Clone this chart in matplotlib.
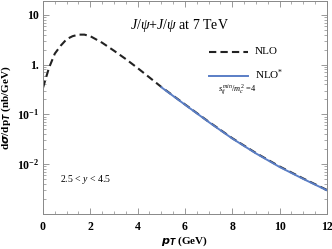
import numpy as np
import matplotlib
matplotlib.use('Agg')
import matplotlib.pyplot as plt
from matplotlib.ticker import FixedLocator, MultipleLocator, LogLocator, NullFormatter

# NLO (dashed) curve
pt_nlo = [0, 0.25, 0.5, 0.75, 1.0, 1.25, 1.5, 1.75, 2.0, 2.5, 3.0, 3.5, 4.0, 4.5, 5.0, 6.0, 7.0, 8.0, 9.0, 10.0, 11.0, 12.0]
xs_nlo = [0.34, 0.85, 1.66, 2.4, 3.24, 3.72, 4.0, 4.0, 3.72, 2.75, 1.9, 1.29, 0.85, 0.55, 0.355,
          0.158, 0.071, 0.033, 0.0166, 0.0089, 0.0051, 0.0030]

# NLO* (blue) curve
pt_star = [5.0, 6.0, 7.0, 8.0, 9.0, 10.0, 11.0, 12.0]
xs_star = [0.35, 0.156, 0.070, 0.0325, 0.0163, 0.0087, 0.0050, 0.00295]

ytick_vals = [10, 1, 0.1, 0.01]
ytick_labels = ['10', '1.', r'$\mathbf{10^{-1}}$', r'$\mathbf{10^{-2}}$']
xtick_vals = [0, 2, 4, 6, 8, 10, 12]

plt.rcParams['font.family'] = 'Liberation Serif'
plt.rcParams['mathtext.fontset'] = 'custom'
plt.rcParams['mathtext.rm'] = 'Liberation Serif'
plt.rcParams['mathtext.it'] = 'Liberation Serif:italic'
plt.rcParams['mathtext.bf'] = 'Liberation Serif:bold'

fig = plt.figure(figsize=(3.32, 2.49), dpi=100)
ax = fig.add_axes([0.1295, 0.142, 0.855, 0.854])

blue = '#5a7ec6'
ax.plot(pt_nlo, xs_nlo, color='#222222', lw=1.5, ls=(0, (3.5, 2)))
ax.plot(pt_star, xs_star, color=blue, lw=1.4)

ax.set_yscale('log')
ax.set_xlim(0, 12)
ax.set_ylim(1e-3, 19)

ax.xaxis.set_major_locator(FixedLocator(xtick_vals))
ax.xaxis.set_minor_locator(MultipleLocator(0.5))
ax.yaxis.set_major_locator(FixedLocator(ytick_vals))
ax.yaxis.set_minor_locator(LogLocator(base=10, subs=np.arange(2, 10)))
ax.yaxis.set_minor_formatter(NullFormatter())
ax.set_yticklabels(ytick_labels)

ax.tick_params(which='both', direction='in', top=True, right=True, color='#888888')
ax.tick_params(which='major', length=4, width=0.6, labelsize=8.5)
ax.tick_params(axis='x', which='major', pad=5)
ax.tick_params(axis='y', which='major', pad=3)
ax.tick_params(which='minor', length=2, width=0.5)
for lab in ax.get_xticklabels() + ax.get_yticklabels():
    lab.set_fontweight('bold')
for s in ax.spines.values():
    s.set_color('#888888')
    s.set_linewidth(0.7)

ax.set_xlabel(r'$\mathbfit{p}_{\mathbfit{T}}$ (GeV)', fontsize=8, fontweight='bold', va='center')
ax.xaxis.set_label_coords(0.5, -0.13)
ax.set_ylabel(r'd$\mathbfit{\sigma}$/dp$_{\mathbfit{T}}$ (nb/GeV)', fontsize=8, fontweight='bold', va='center')
ax.yaxis.set_label_coords(-0.128, 0.5)

ax.text(0.48, 0.887, r'$J/\psi$+$J/\psi$ at 7 TeV', transform=ax.transAxes, ha='center', va='center', fontsize=10)

# legend drawn by hand
ax.plot([7.0, 8.65], [1.83, 1.83], color='#222222', lw=1.5, ls=(0, (3.5, 2)))
ax.text(8.95, 1.83, 'NLO', fontsize=8, va='center')
ax.plot([7.0, 8.65], [0.6, 0.6], color=blue, lw=1.4)
ax.text(8.95, 0.62, r'NLO$^{*}$', fontsize=8, va='center')
ax.text(7.4, 0.31, r'$s_{ij}^{\,min}/m_c^{\,2} = 4$', fontsize=6, va='center')

ax.text(0.7, 0.0048, r'2.5 < $y$ < 4.5', fontsize=7, va='center')

fig.savefig('out.png', dpi=100)
